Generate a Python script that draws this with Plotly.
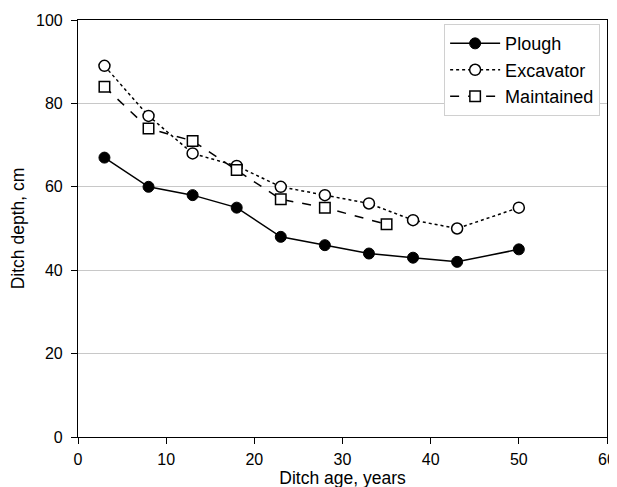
import plotly.graph_objects as go

plough_x = [3, 8, 13, 18, 23, 28, 33, 38, 43, 50]
plough_y = [67, 60, 58, 55, 48, 46, 44, 43, 42, 45]
excav_x = [3, 8, 13, 18, 23, 28, 33, 38, 43, 50]
excav_y = [89, 77, 68, 65, 60, 58, 56, 52, 50, 55]
maint_x = [3, 8, 13, 18, 23, 28, 35]
maint_y = [84, 74, 71, 64, 57, 55, 51]

x_ticks = [0, 10, 20, 30, 40, 50, 60]
y_ticks = [0, 20, 40, 60, 80, 100]

fam = "Liberation Sans, Arial, sans-serif"

fig = go.Figure()
fig.add_trace(go.Scatter(x=plough_x, y=plough_y, name="Plough", mode="lines+markers",
                         line=dict(color="black", width=1.5, dash="solid"),
                         marker=dict(symbol="circle", size=11, color="black",
                                     line=dict(color="black", width=1))))
fig.add_trace(go.Scatter(x=excav_x, y=excav_y, name="Excavator", mode="lines+markers",
                         line=dict(color="black", width=1.5, dash="dot"),
                         marker=dict(symbol="circle", size=11, color="white",
                                     line=dict(color="black", width=1.5))))
fig.add_trace(go.Scatter(x=maint_x, y=maint_y, name="Maintained", mode="lines+markers",
                         line=dict(color="black", width=1.5, dash="dash"),
                         marker=dict(symbol="square", size=10.5, color="white",
                                     line=dict(color="black", width=1.5))))

fig.update_layout(
    width=617, height=487,
    margin=dict(l=70, r=18, t=12, b=58),
    paper_bgcolor="white", plot_bgcolor="white",
    font=dict(family=fam, size=16, color="black"),
    showlegend=True,
    legend=dict(x=0.987, y=0.99, xanchor="right", yanchor="top",
                bgcolor="white", bordercolor="#d0d0d0", borderwidth=1,
                itemwidth=50,
                font=dict(family=fam, size=18, color="black")),
)
fig.update_xaxes(range=[0, 60], tickvals=x_ticks, showgrid=False, zeroline=False,
                 showline=True, linecolor="black", linewidth=1.2, mirror=True,
                 ticks="outside", ticklen=6, tickcolor="black", automargin=False,
                 tickfont=dict(size=16), ticklabelstandoff=2,
                 title=dict(text="Ditch age, years", standoff=4, font=dict(size=17.5)))
fig.update_yaxes(range=[0, 100], tickvals=y_ticks, showgrid=True, gridcolor="#c8c8c8",
                 gridwidth=1, zeroline=False,
                 showline=True, linecolor="black", linewidth=1.2, mirror=True,
                 ticks="outside", ticklen=6, tickcolor="black", automargin=False,
                 tickfont=dict(size=16), ticklabelstandoff=5,
                 title=dict(text="Ditch depth, cm", standoff=8, font=dict(size=17.5)))

fig.write_html("out.html")
